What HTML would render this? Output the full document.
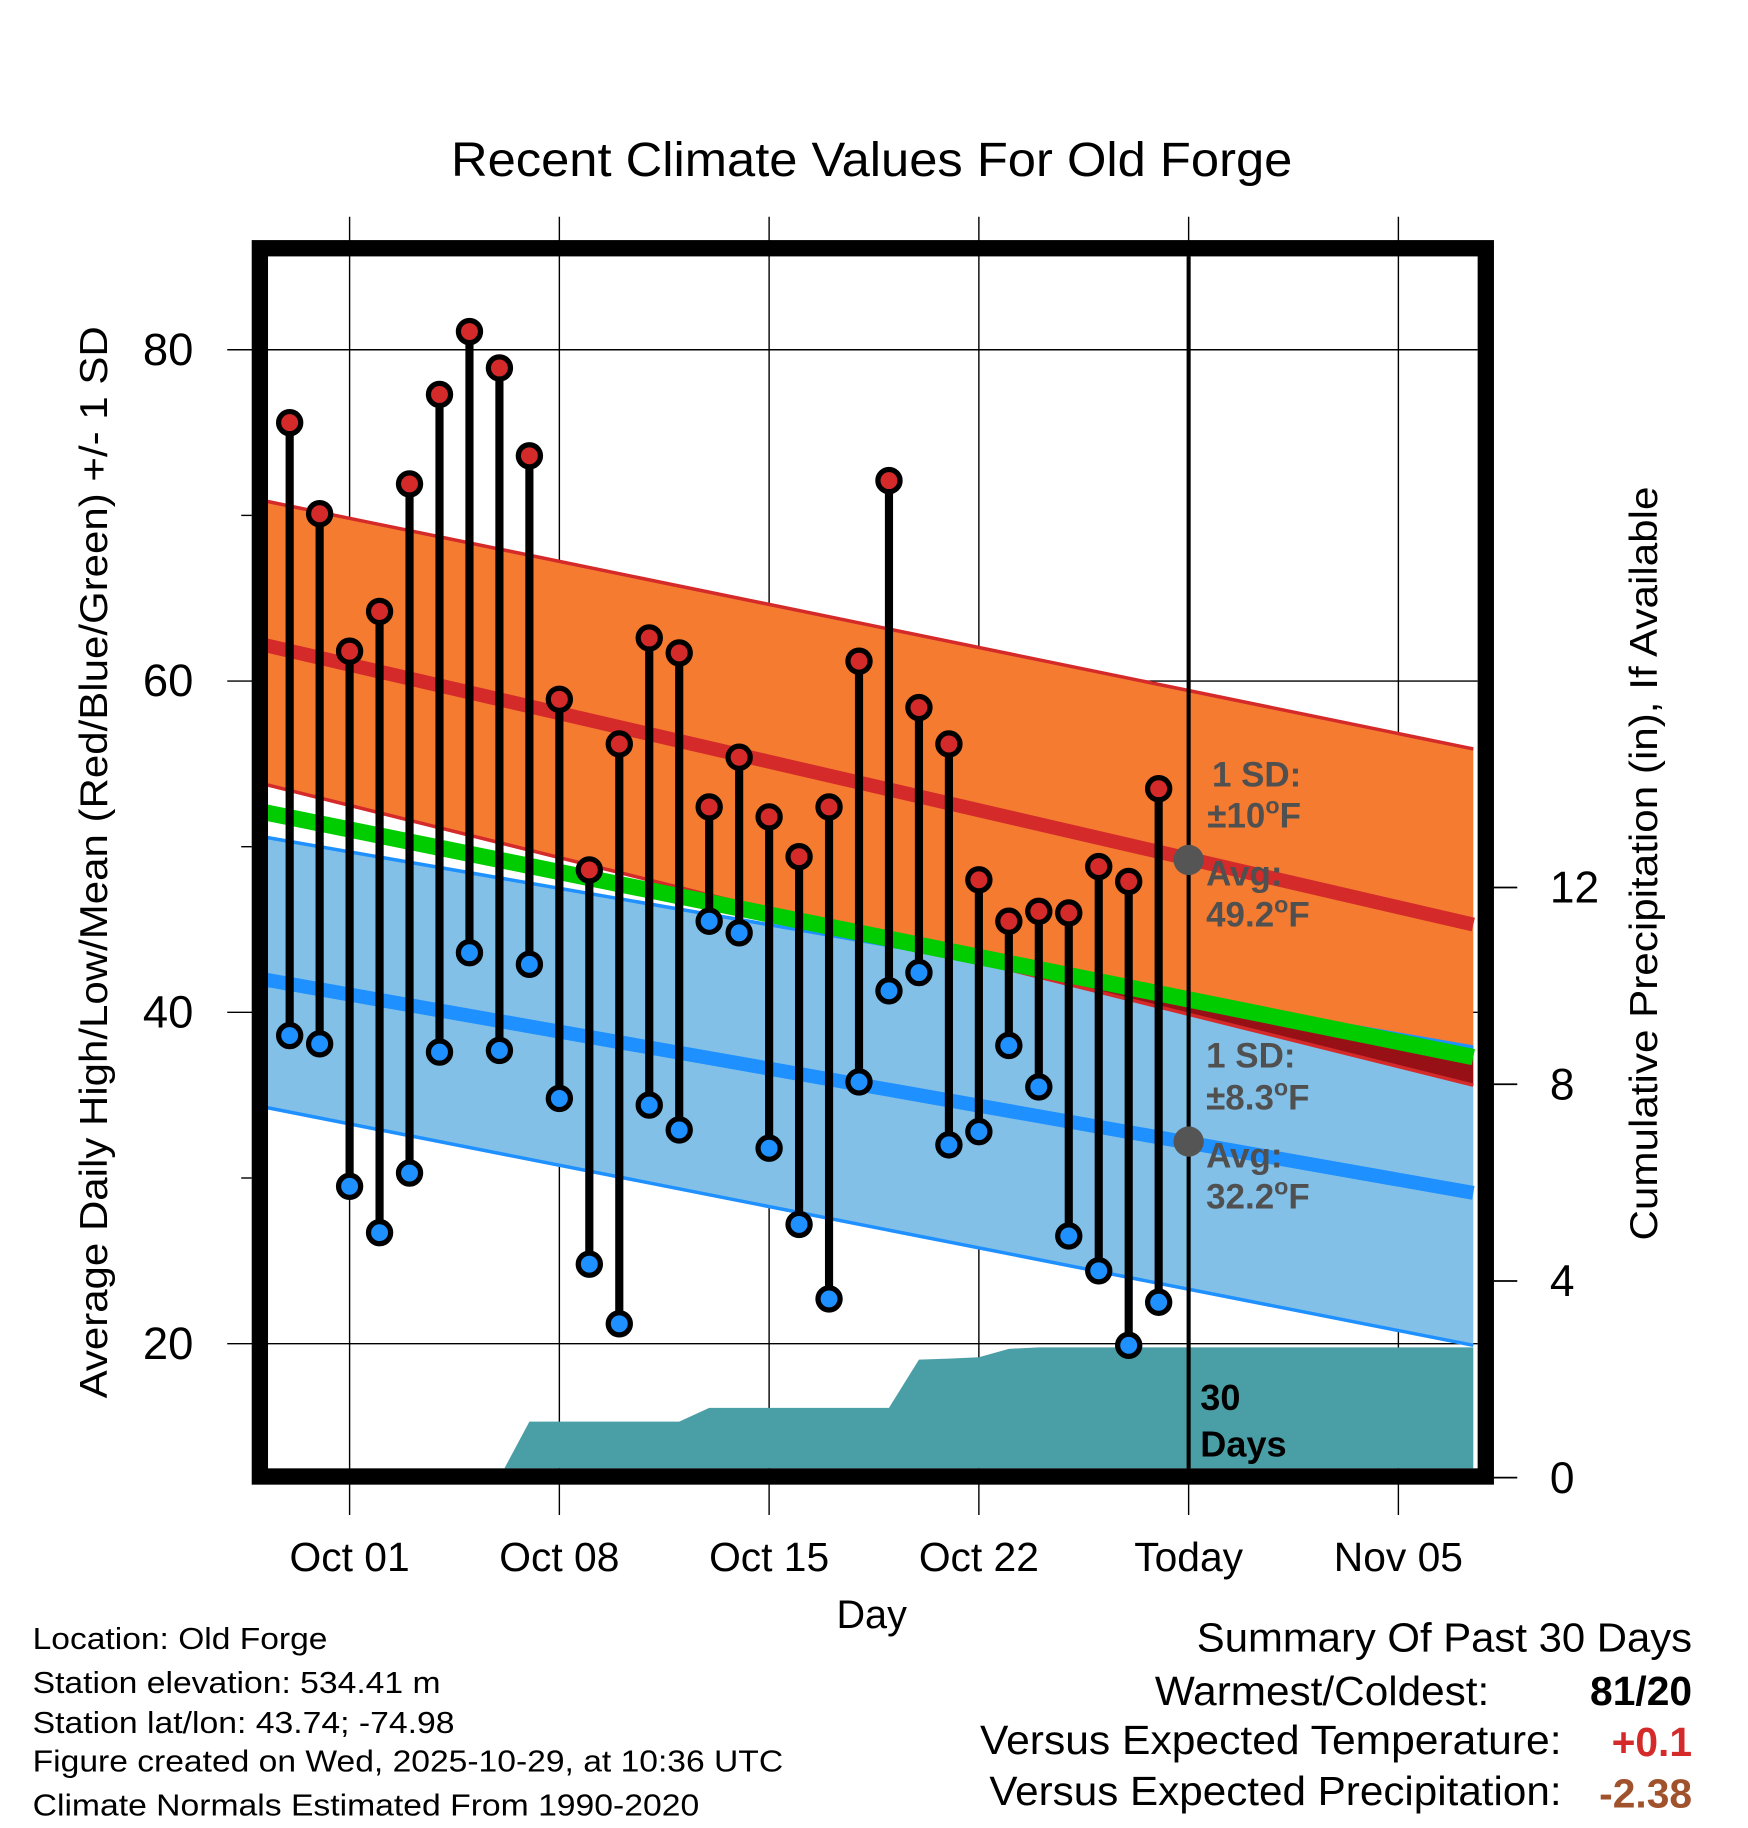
<!DOCTYPE html>
<html><head><meta charset="utf-8"><style>
html,body{margin:0;padding:0;background:#fff;}
svg{display:block;font-family:"Liberation Sans",Arial,sans-serif;}
</style></head><body>
<svg id="chart" width="1748" height="1828" viewBox="0 0 1500 1568.6" xmlns="http://www.w3.org/2000/svg">
<defs><clipPath id="plotclip"><rect x="230" y="220" width="1038" height="1040"/></clipPath></defs>
<text x="748" y="151" font-size="41" text-anchor="middle" textLength="722" lengthAdjust="spacingAndGlyphs">Recent Climate Values For Old Forge</text>
<g id="grid"></g>
<g id="plot" clip-path="url(#plotclip)"></g>
<g id="marks"></g>
<rect x="223" y="213" width="1052" height="1054" fill="none" stroke="#000" stroke-width="14"/>
<g id="axes"></g>
<text transform="translate(92,740) rotate(-90)" font-size="33" text-anchor="middle" textLength="920" lengthAdjust="spacingAndGlyphs">Average Daily High/Low/Mean (Red/Blue/Green) +/- 1 SD</text>
<text transform="translate(1422,741) rotate(-90)" font-size="33" text-anchor="middle" textLength="647" lengthAdjust="spacingAndGlyphs">Cumulative Precipitation (in), If Available</text>
<text x="748" y="1397" font-size="34" text-anchor="middle">Day</text>
<g font-size="30" font-weight="bold" fill="#505050">
<text x="1040" y="675">1 SD:</text>
<text x="1036" y="710">±10<tspan dy="-12" font-size="20">o</tspan><tspan dy="12">F</tspan></text>
<text x="1035" y="760">Avg:</text>
<text x="1035" y="795">49.2<tspan dy="-12" font-size="20">o</tspan><tspan dy="12">F</tspan></text>
<text x="1035" y="916">1 SD:</text>
<text x="1035" y="952">±8.3<tspan dy="-12" font-size="20">o</tspan><tspan dy="12">F</tspan></text>
<text x="1035" y="1002">Avg:</text>
<text x="1035" y="1037">32.2<tspan dy="-12" font-size="20">o</tspan><tspan dy="12">F</tspan></text>
</g>
<g font-size="31" font-weight="bold" fill="#000">
<text x="1030" y="1210">30</text><text x="1030" y="1250">Days</text>
</g>
<g font-size="26">
<text x="28" y="1415" textLength="253" lengthAdjust="spacingAndGlyphs">Location: Old Forge</text>
<text x="28" y="1453" textLength="350" lengthAdjust="spacingAndGlyphs">Station elevation: 534.41 m</text>
<text x="28" y="1487" textLength="362" lengthAdjust="spacingAndGlyphs">Station lat/lon: 43.74; -74.98</text>
<text x="28" y="1520" textLength="644" lengthAdjust="spacingAndGlyphs">Figure created on Wed, 2025-10-29, at 10:36 UTC</text>
<text x="28" y="1558" textLength="572" lengthAdjust="spacingAndGlyphs">Climate Normals Estimated From 1990-2020</text>
</g>
<g font-size="35">
<text x="1027" y="1417" textLength="425" lengthAdjust="spacingAndGlyphs">Summary Of Past 30 Days</text>
<text x="991" y="1463" textLength="287" lengthAdjust="spacingAndGlyphs">Warmest/Coldest:</text>
<text x="1452" y="1463" text-anchor="end" font-weight="bold">81/20</text>
<text x="841" y="1505" textLength="499" lengthAdjust="spacingAndGlyphs">Versus Expected Temperature:</text>
<text x="1452" y="1507" text-anchor="end" font-weight="bold" fill="#d42a2a">+0.1</text>
<text x="849" y="1549" textLength="491" lengthAdjust="spacingAndGlyphs">Versus Expected Precipitation:</text>
<text x="1452" y="1551" text-anchor="end" font-weight="bold" fill="#a0522d">-2.38</text>
</g>
</svg>
<script>
// day index: 0 = Oct 01
const days = [-2,-1,0,1,2,3,4,5,6,7,8,9,10,11,12,13,14,15,16,17,18,19,20,21,22,23,24,25,26,27];
const highs = [75.6,70.1,61.8,64.2,71.9,77.3,81.1,78.9,73.6,58.9,48.6,56.2,62.6,61.7,52.4,55.4,51.8,49.4,52.4,61.2,72.1,58.4,56.2,48.0,45.5,46.1,46.0,48.8,47.9,53.5];
const lows = [38.6,38.1,29.5,26.7,30.3,37.6,43.6,37.7,42.9,34.8,24.8,21.2,34.4,32.9,45.5,44.8,31.8,27.2,22.7,35.8,41.3,42.4,32.0,32.8,38.0,35.5,26.5,24.4,19.9,22.5];
const precip = [0,0,0,0,0,0,0,0,1.14,1.14,1.14,1.14,1.14,1.14,1.42,1.42,1.42,1.42,1.42,1.42,1.42,2.40,2.42,2.45,2.62,2.65,2.65,2.65,2.65,2.65];
// normals at left edge and right edge of plot
const normDays = [-2.9,37.5];
const highMean = [62.2,45.3];
const highUpper = [70.9,55.9];
const highLower = [53.8,35.6];
const lowMean = [42.0,29.1];
const lowUpper = [50.6,37.9];
const lowLower = [34.3,19.9];
const avgMean = [52.1,37.3];
const xTickDays = [0,7,14,21,28,35];
const xTickLabels = ["Oct 01","Oct 08","Oct 15","Oct 22","Today","Nov 05"];
const yTicks = [20,40,60,80];
const yMinor = [30,50,70];
const y2Ticks = [0,4,8,12];
const todayDay = 28;
const todayHighAvg = 49.2, todayLowAvg = 32.2;

const NS="http://www.w3.org/2000/svg";
const X = d => 300 + d*25.714;
const Y = v => 1153 - (v-20)*14.215;
const Y2 = p => 1268 - p*42.2;
function mk(tag, attrs, parent){const e=document.createElementNS(NS,tag);for(const k in attrs)e.setAttribute(k,attrs[k]);parent.appendChild(e);return e;}
const grid=document.getElementById('grid'), plot=document.getElementById('plot'), marks=document.getElementById('marks'), axes=document.getElementById('axes');

function band(up,lo){return `${X(normDays[0])},${Y(up[0])} ${X(normDays[1])},${Y(up[1])} ${X(normDays[1])},${Y(lo[1])} ${X(normDays[0])},${Y(lo[0])}`;}
let e=mk('polygon',{points:band(lowUpper,lowLower),fill:'#82c0e8'},plot);

e=mk('polygon',{points:band(highUpper,highLower),fill:'#f47b30'},plot);

const cp=mk('clipPath',{id:'blueclip'},document.querySelector('defs'));
mk('polygon',{points:band(lowUpper,lowLower)},cp);
e=mk('polygon',{points:band(highUpper,highLower),fill:'#961016','clip-path':'url(#blueclip)'},plot);

function line(arr,color,w,name){const l=mk('line',{x1:X(normDays[0]),y1:Y(arr[0]),x2:X(normDays[1]),y2:Y(arr[1]),stroke:color,'stroke-width':w},plot);}
line(highUpper,'#d42a2a',3,'high-upper-line');line(highLower,'#d42a2a',3,'high-lower-line');
line(lowUpper,'#1e90ff',3,'low-upper-line');line(lowLower,'#1e90ff',3,'low-lower-line');
line(avgMean,'#00cc00',14,'mean-normal-line');
line(highMean,'#d42a2a',12,'high-normal-line');
line(lowMean,'#1e90ff',12,'low-normal-line');
let pts=days.map((d,i)=>`${X(d)},${Y2(precip[i])}`);
const lastP=precip[precip.length-1];
pts.push(`${X(normDays[1])},${Y2(lastP)}`);pts.push(`${X(normDays[1])},1300`);pts.push(`${X(days[0])},1300`);
e=mk('polygon',{points:pts.join(' '),fill:'#4a9ea6'},plot);


xTickDays.forEach((d,i)=>{
  const g=mk('line',{x1:X(d),y1:186,x2:X(d),y2:1300,stroke:'#000','stroke-width':1.2},grid);
  
  const t=mk('text',{x:X(d),y:1348,'font-size':35,'text-anchor':'middle'},axes);
  
  t.textContent=xTickLabels[i];
});
yTicks.forEach(v=>{
  const g=mk('line',{x1:195,y1:Y(v),x2:1268,y2:Y(v),stroke:'#000','stroke-width':1.2},grid);
  
  const t=mk('text',{x:166,y:Y(v)+13,'font-size':39,'text-anchor':'end'},axes);
  
  t.textContent=v;
});
yMinor.forEach(v=>{
  const g=mk('line',{x1:207,y1:Y(v),x2:216,y2:Y(v),stroke:'#000','stroke-width':1.2},axes);
  
});
y2Ticks.forEach(p=>{
  const g=mk('line',{x1:1282,y1:Y2(p),x2:1302,y2:Y2(p),stroke:'#000','stroke-width':1.5},axes);
  
  const t=mk('text',{x:1330,y:Y2(p)+13,'font-size':38,'text-anchor':'start'},axes);
  
  t.textContent=p;
});

days.forEach((d,i)=>{
  const s=mk('line',{x1:X(d),y1:Y(highs[i]),x2:X(d),y2:Y(lows[i]),stroke:'#000','stroke-width':7},marks);
  
});
days.forEach((d,i)=>{
  const h=mk('circle',{cx:X(d),cy:Y(highs[i]),r:9.5,fill:'#d42a2a',stroke:'#000','stroke-width':4.5},marks);
  
  const l=mk('circle',{cx:X(d),cy:Y(lows[i]),r:9.5,fill:'#1e90ff',stroke:'#000','stroke-width':4.5},marks);
  
});
e=mk('line',{x1:X(todayDay),y1:220,x2:X(todayDay),y2:1260,stroke:'#000','stroke-width':3.5},marks);

e=mk('circle',{cx:X(todayDay),cy:Y(todayHighAvg),r:13,fill:'#555'},marks);

e=mk('circle',{cx:X(todayDay),cy:Y(todayLowAvg),r:13,fill:'#555'},marks);

</script>
</body></html>
